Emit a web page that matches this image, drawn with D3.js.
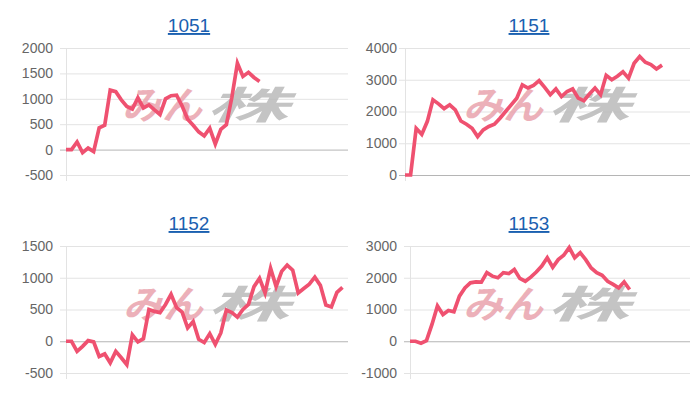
<!DOCTYPE html>
<html>
<head>
<meta charset="utf-8">
<script src="https://cdn.jsdelivr.net/npm/d3@7"></script>
<style>
  body { margin: 0; background: #fff; }
</style>
</head>
<body>
<script>
// chart data
const names = ["1051", "1151", "1152", "1153"];
const xSlots = d3.range(52);   // shared category slots on the x axis

const s1051 = [0, 0, 150, -60, 30, -40, 430, 480, 1170, 1140, 980, 850, 800, 1020, 820, 880, 780, 690,
  1000, 1060, 1070, 860, 600, 480, 350, 270, 420, 110, 400, 490, 1030, 1700, 1440, 1520, 1420, 1340];
const s1151 = [0, 0, 1470, 1280, 1690, 2370, 2240, 2090, 2210, 2050, 1700, 1600, 1470, 1210, 1420, 1530,
  1600, 1790, 2000, 2210, 2420, 2840, 2740, 2820, 2970, 2760, 2530, 2710, 2470, 2630, 2710, 2420, 2340,
  2550, 2740, 2530, 3140, 3000, 3110, 3250, 3050, 3520, 3730, 3550, 3480, 3340, 3460];
const s1152 = [0, 0, -160, -80, 10, -10, -240, -200, -340, -160, -260, -370, 100, -10, 40, 500, 470, 450,
  580, 740, 530, 460, 210, 310, 30, -20, 120, -50, 130, 490, 450, 380, 500, 580, 860, 990, 760, 1150, 860,
  1100, 1200, 1120, 760, 830, 900, 1010, 880, 570, 540, 770, 850];
const s1153 = [0, 0, -60, 20, 530, 1110, 840, 970, 930, 1420, 1680, 1840, 1870, 1860, 2160, 2050, 2000,
  2160, 2130, 2260, 1980, 1890, 2020, 2180, 2370, 2630, 2330, 2570, 2710, 2950, 2630, 2790, 2570, 2310,
  2160, 2080, 1890, 1790, 1680, 1870, 1630];

const ticks1051 = [-500, 0, 500, 1000, 1500, 2000];
const ticks1151 = [0, 1000, 2000, 3000, 4000];
const ticks1152 = [-500, 0, 500, 1000, 1500];
const ticks1153 = [-1000, 0, 1000, 2000, 3000];

const W = 700, H = 400;
const lineColor = "#ef5170";

const svg = d3.select("body").append("svg")
    .attr("width", W)
    .attr("height", H)
    .style("font-family", "'Liberation Sans', Arial, sans-serif");

// panel boxes (plot area in pixels)
const panels = [
  {name: names[0], values: s1051, ticks: ticks1051, left: 66, right: 348, top: 48, bottom: 175, labelX: 53, titleX: 189, titleY: 32, wmX: 122, wmY: 119},
  {name: names[1], values: s1151, ticks: ticks1151, left: 405, right: 690, top: 48, bottom: 175, labelX: 397, titleX: 529, titleY: 32, wmX: 463, wmY: 119},
  {name: names[2], values: s1152, ticks: ticks1152, left: 66, right: 348, top: 246, bottom: 373, labelX: 53, titleX: 189, titleY: 230, wmX: 123, wmY: 318},
  {name: names[3], values: s1153, ticks: ticks1153, left: 410, right: 690, top: 246, bottom: 373, labelX: 397, titleX: 529, titleY: 230, wmX: 463, wmY: 318}
];

panels.forEach(function(p) {
  const g = svg.append("g");

  const x = d3.scalePoint()
      .domain(xSlots)
      .range([p.left, p.right]);

  const y = d3.scaleLinear()
      .domain(d3.extent(p.ticks))
      .range([p.bottom, p.top]);

  // title
  g.append("text")
      .attr("x", p.titleX)
      .attr("y", p.titleY)
      .attr("text-anchor", "middle")
      .attr("font-size", "19px")
      .attr("fill", "#1a60b0")
      .style("text-decoration", "underline")
      .text(p.name);

  // grid lines
  g.selectAll(".grid")
      .data(p.ticks)
      .enter().append("line")
      .attr("x1", p.left - 6)
      .attr("x2", p.right)
      .attr("y1", d => y(d) + 0.5)
      .attr("y2", d => y(d) + 0.5)
      .attr("stroke", d => d === 0 ? "#b5b5b5" : "#e3e3e3")
      .attr("stroke-width", 1);

  // left axis line
  g.append("line")
      .attr("x1", p.left + 0.5)
      .attr("x2", p.left + 0.5)
      .attr("y1", p.top)
      .attr("y2", p.bottom + 6)
      .attr("stroke", "#e3e3e3");

  // y tick labels
  g.selectAll(".tick")
      .data(p.ticks)
      .enter().append("text")
      .attr("x", p.labelX)
      .attr("y", d => y(d))
      .attr("dy", "0.35em")
      .attr("text-anchor", "end")
      .attr("font-size", "14px")
      .attr("fill", "#666")
      .text(d => d);

  // watermark logo
  const wm = g.append("g")
      .attr("font-family", "'Noto Sans CJK JP', sans-serif")
      .attr("font-weight", "bold")
      .attr("font-style", "italic")
      .attr("font-size", "38px");
  wm.append("text")
      .attr("x", p.wmX)
      .attr("y", p.wmY)
      .attr("textLength", 80)
      .attr("lengthAdjust", "spacingAndGlyphs")
      .attr("fill", "#e9a3ad")
      .attr("opacity", 0.85)
      .text("みん");
  wm.append("text")
      .attr("x", p.wmX + 84)
      .attr("y", p.wmY)
      .attr("textLength", 82)
      .attr("lengthAdjust", "spacingAndGlyphs")
      .attr("fill", "#bababa")
      .attr("opacity", 0.85)
      .text("株");

  // the series line
  const line = d3.line()
      .x((d, i) => x(xSlots[i]))
      .y(d => y(d));

  g.append("path")
      .datum(p.values)
      .attr("d", line)
      .attr("fill", "none")
      .attr("stroke", lineColor)
      .attr("stroke-width", 3.7)
      .attr("stroke-linejoin", "miter");
});
</script>
</body>
</html>
